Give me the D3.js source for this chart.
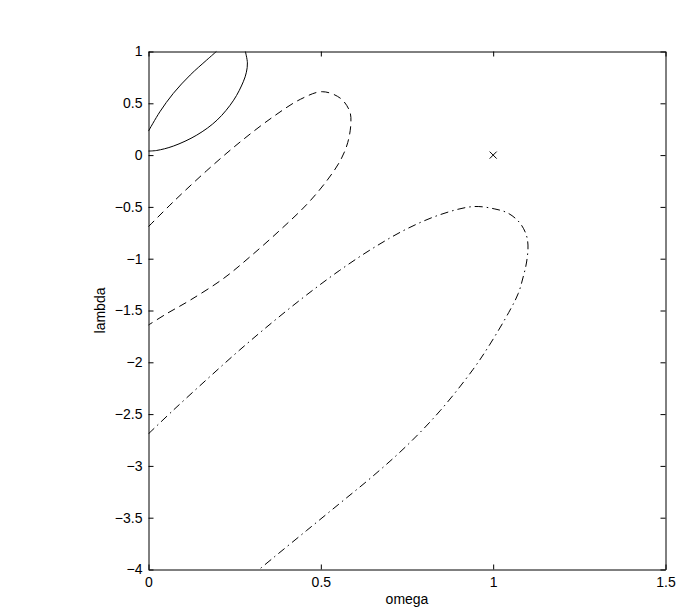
<!DOCTYPE html>
<html>
<head>
<meta charset="utf-8">
<script src="https://cdn.jsdelivr.net/npm/d3@7"></script>
<style>
  html, body { margin: 0; padding: 0; background: #fff; }
  svg { display: block; }
  text { font-family: "Liberation Sans", Arial, Helvetica, sans-serif; }
</style>
</head>
<body>
<script>
// ---- data ----
const xTicks = [0, 0.5, 1, 1.5];
const xTickLabels = ["0", "0.5", "1", "1.5"];
const yTicks = [1, 0.5, 0, -0.5, -1, -1.5, -2, -2.5, -3, -3.5, -4];
const yTickLabels = ["1", "0.5", "0", "\u22120.5", "\u22121", "\u22121.5", "\u22122", "\u22122.5", "\u22123", "\u22123.5", "\u22124"];
const xLabel = "omega";
const yLabel = "lambda";

// solid contour (clipped by the top axis, two branches)
const solidUpper = [[0, 0.232], [0.033, 0.418], [0.072, 0.596], [0.121, 0.773], [0.169, 0.918], [0.197, 1.0]];
const solidLower = [[0.281, 1.0], [0.287, 0.89], [0.284, 0.80], [0.275, 0.708], [0.247, 0.53], [0.199, 0.338],
                    [0.140, 0.193], [0.072, 0.087], [0.024, 0.045], [0, 0.039]];
// dashed contour
const dashedCurve = [[0, -0.69], [0.072, -0.451], [0.169, -0.150], [0.266, 0.127], [0.363, 0.373], [0.441, 0.539],
                     [0.504, 0.612], [0.557, 0.548], [0.584, 0.42], [0.587, 0.30], [0.578, 0.12], [0.557, -0.05],
                     [0.519, -0.24], [0.461, -0.47], [0.383, -0.72], [0.295, -0.98], [0.218, -1.19],
                     [0.121, -1.40], [0.053, -1.53], [0, -1.64]];
// dash-dot contour
const dashDotCurve = [[0, -2.69], [0.072, -2.462], [0.169, -2.166], [0.265, -1.880], [0.362, -1.607],
                      [0.459, -1.349], [0.555, -1.112], [0.652, -0.897], [0.749, -0.713], [0.846, -0.575],
                      [0.942, -0.497], [1.005, -0.52], [1.044, -0.562], [1.076, -0.649], [1.095, -0.76],
                      [1.101, -0.868], [1.097, -1.032], [1.087, -1.177], [1.073, -1.334], [1.049, -1.496],
                      [0.991, -1.824], [0.942, -2.067], [0.846, -2.468], [0.749, -2.806], [0.652, -3.096],
                      [0.556, -3.359], [0.459, -3.623], [0.362, -3.887], [0.321, -4.0]];
// marker
const markerPoint = [1, 0];

// ---- layout ----
const W = 681, H = 611;
const svg = d3.select("body").append("svg").attr("width", W).attr("height", H);

const x = d3.scaleLinear().domain([0, 1.5]).range([148.5, 665.5]);
const y = d3.scaleLinear().domain([-4, 1]).range([569.5, 51.5]);

const fontSize = 14;

// axes (box with inward ticks on all four sides)
const gBottom = svg.append("g").attr("transform", `translate(0,${y(-4)})`)
  .call(d3.axisBottom(x).tickValues(xTicks).tickFormat((d, i) => xTickLabels[i]).tickSizeInner(-5).tickSizeOuter(0).tickPadding(7.5));
const gTop = svg.append("g").attr("transform", `translate(0,${y(1)})`)
  .call(d3.axisTop(x).tickValues(xTicks).tickFormat("").tickSizeInner(-5).tickSizeOuter(0));
const gLeft = svg.append("g").attr("transform", `translate(${x(0)},0)`)
  .call(d3.axisLeft(y).tickValues(yTicks).tickFormat((d, i) => yTickLabels[i]).tickSizeInner(-5).tickSizeOuter(0).tickPadding(6));
const gRight = svg.append("g").attr("transform", `translate(${x(1.5)},0)`)
  .call(d3.axisRight(y).tickValues(yTicks).tickFormat("").tickSizeInner(-5).tickSizeOuter(0));

[gBottom, gTop, gLeft, gRight].forEach(g => {
  g.selectAll("path.domain").attr("stroke", "#000").attr("stroke-width", 1);
  g.selectAll(".tick line").attr("stroke", "#000").attr("stroke-width", 1);
  g.selectAll("text").attr("font-size", fontSize).attr("fill", "#000")
    .attr("font-family", "'Liberation Sans', Arial, Helvetica, sans-serif");
});

// axis labels
svg.append("text")
  .attr("x", (x(0) + x(1.5)) / 2).attr("y", 604)
  .attr("text-anchor", "middle").attr("font-size", fontSize).attr("fill", "#000")
  .text(xLabel);
svg.append("text")
  .attr("transform", `translate(105,${(y(-4) + y(1)) / 2}) rotate(-90)`)
  .attr("text-anchor", "middle").attr("font-size", fontSize).attr("fill", "#000")
  .text(yLabel);

// curves
const line = d3.line().x(d => x(d[0])).y(d => y(d[1])).curve(d3.curveCatmullRom.alpha(0.5));
const plot = svg.append("g");
[solidUpper, solidLower].forEach(seg => {
  plot.append("path").datum(seg).attr("d", line)
    .attr("fill", "none").attr("stroke", "#000").attr("stroke-width", 1);
});
plot.append("path").datum(dashedCurve).attr("d", line)
  .attr("fill", "none").attr("stroke", "#000").attr("stroke-width", 1)
  .attr("stroke-dasharray", "8,5");
plot.append("path").datum(dashDotCurve).attr("d", line)
  .attr("fill", "none").attr("stroke", "#000").attr("stroke-width", 1)
  .attr("stroke-dasharray", "8,4,1.5,4");

// marker
plot.append("path")
  .attr("transform", `translate(${x(markerPoint[0])},${y(markerPoint[1])})`)
  .attr("d", d3.symbol().type(d3.symbolTimes).size(34))
  .attr("fill", "none").attr("stroke", "#000").attr("stroke-width", 1);
</script>
</body>
</html>
